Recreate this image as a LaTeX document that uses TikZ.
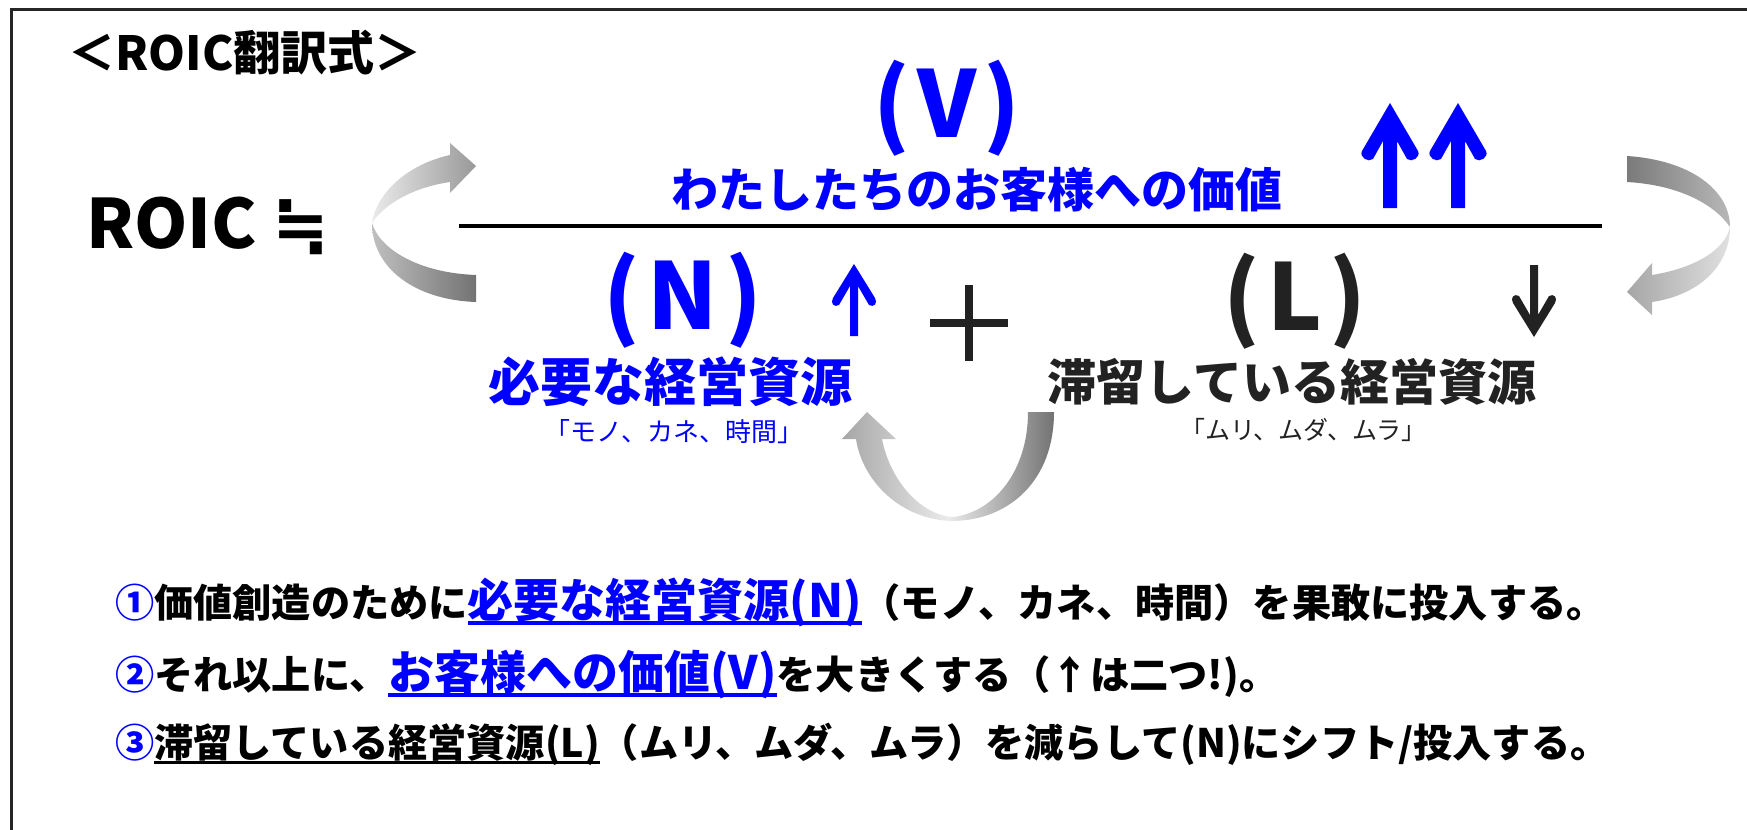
\documentclass[tikz,border=0pt]{standalone}
\usepackage{fontspec}
\setmainfont{Noto Sans CJK JP}
\newfontfamily\symfont{DejaVu Sans}
\definecolor{ablue}{HTML}{0000FF}
\definecolor{dk}{HTML}{222222}
\newcommand\myul[1]{\leavevmode\setbox0=\hbox{#1}\rlap{\rule[-0.17em]{\wd0}{0.075em}}\box0}
\newcommand\fs[1]{\fontsize{#1}{#1}\selectfont}
\tikzset{
  bigup/.pic={\fill (0,0) -- (28,48) .. controls (31,54) and (22,60) .. (17,56) -- (7,38) -- (7,105) -- (-7,105) -- (-7,38) -- (-17,56) .. controls (-22,60) and (-31,54) .. (-28,48) -- cycle;},
  smallup/.pic={\fill (0,0) -- (21,34) .. controls (24,39) and (20,44) .. (15,41) -- (4,22) -- (4,72) -- (-4,72) -- (-4,22) -- (-15,41) .. controls (-20,44) and (-24,39) .. (-21,34) -- cycle;},
  lbl/.style={inner sep=0pt, outer sep=0pt},
  line/.style={lbl, anchor=west, font=\bfseries\fs{19.6}},
}
\begin{document}
\begin{tikzpicture}[x=0.5pt,y=-0.5pt]
\useasboundingbox (0,0) rectangle (1747,830);
\clip (0,0) rectangle (1747,830);
\fill[white] (0,0) rectangle (1747,830);
\draw[line width=1.5pt, draw=black!85] (11,9) rectangle (1800,900);

% title
\node[lbl, font=\bfseries\fs{23.5}] (title) at (245,53) {＜ROIC翻訳式＞};
\node[lbl, font=\bfseries\fs{34}, anchor=west] (roic) at (86,226) {ROIC {\symfont\bfseries ≒}};

% fraction line
\coordinate (fl) at (459,226);
\coordinate (fr) at (1602,226);
\draw[line width=2pt] (fl) -- (fr);

% numerator
\node[lbl, ablue, font=\bfseries\fs{46}] (V) at (947,108) {(\kern0.08em V\kern0.08em)};
\node[lbl, ablue, font=\bfseries\fs{23.5}] (vtxt) at (977,190) {わたしたちのお客様への価値};
\pic[color=ablue] at (1390,103) {bigup};
\pic[color=ablue] at (1458,103) {bigup};

% denominator
\node[lbl, ablue, font=\bfseries\fs{46}] (N) at (683,300) {(\kern0.08em N\kern0.08em)};
\pic[color=ablue] at (854,264) {smallup};
\node[lbl, ablue, font=\bfseries\fs{26}] (ntxt) at (670,382) {必要な経営資源};
\node[lbl, ablue, font=\fs{13}] (nsub) at (674,432) {「モノ、カネ、時間」};

\draw[dk, line width=4pt] (930,323) -- (1008,323) (969,285) -- (969,361);

\node[lbl, dk, font=\bfseries\fs{46}] (L) at (1295,301) {(\kern0.08em L\kern0.08em)};
\pic[color=dk, yscale=-1] at (1534,337) {smallup};
\node[lbl, dk, font=\bfseries\fs{24.5}] (ltxt) at (1292,382) {滞留している経営資源};
\node[lbl, dk, font=\fs{12.5}] (lsub) at (1303,430) {「ムリ、ムダ、ムラ」};

% left curved arrow
\shade[left color=black!8, right color=black!40]
  (372,223) .. controls (376,195) and (405,165) .. (450,155) -- (450,143) -- (476,166) -- (450,193) -- (450,182) .. controls (415,187) and (385,203) .. (372,223) -- cycle;
\shade[left color=black!25, right color=black!55]
  (372,223) .. controls (372,268) and (415,300) .. (476,302) -- (476,275) .. controls (420,273) and (380,250) .. (372,223) -- cycle;

% right curved arrow
\shade[left color=black!52, right color=black!28]
  (1627,156) .. controls (1690,160) and (1730,190) .. (1730,227) .. controls (1715,205) and (1680,185) .. (1627,182) -- cycle;
\shade[left color=black!35, right color=black!12]
  (1730,227) .. controls (1730,265) and (1700,295) .. (1652,302) -- (1652,315) -- (1627,292) -- (1652,263) -- (1652,275) .. controls (1695,268) and (1725,250) .. (1730,227) -- cycle;

% bottom curved arrow
\shade[left color=black!35, right color=black!55, middle color=black!8]
  (1054,412) .. controls (1054,480) and (1010,520) .. (953,521) .. controls (900,520) and (862,480) .. (856,439) -- (842,439) -- (867,412) -- (896,439) -- (882,439) .. controls (890,480) and (920,515) .. (953,517) .. controls (995,512) and (1028,470) .. (1028,412) -- cycle;

% bottom lines
\node[line] (l1) at (115,602) {{\color{ablue}①}価値創造のために{\color{ablue}\fs{23}\myul{必要な経営資源(N)}}（モノ、カネ、時間）を果敢に投入する。};
\node[line] (l2) at (115,674) {{\color{ablue}②}それ以上に、{\color{ablue}\fs{23}\myul{お客様への価値(V)}}を大きくする（↑は二つ!)。};
\node[line] (l3) at (115,744) {{\color{ablue}③}\myul{滞留している経営資源(L)}（ムリ、ムダ、ムラ）を減らして(N)にシフト/投入する。};
\end{tikzpicture}
\end{document}
